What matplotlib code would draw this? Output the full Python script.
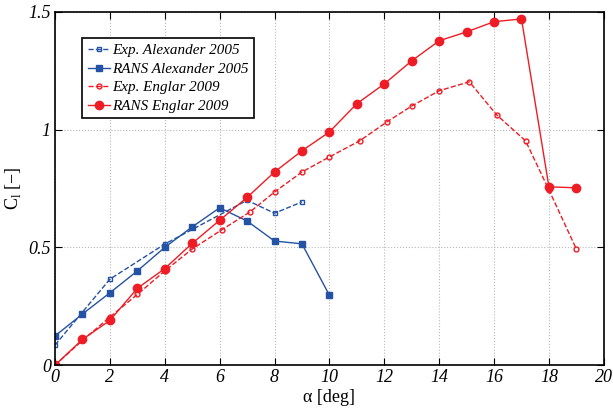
import matplotlib
matplotlib.use('Agg')
import matplotlib.pyplot as plt

# Exp. Alexander 2005
expAlexAlpha = [0, 2, 4, 7, 8, 9]
expAlexCl = [0.085, 0.365, 0.514, 0.70, 0.645, 0.693]

# RANS Alexander 2005
ransAlexAlpha = [0, 1, 2, 3, 4, 5, 6, 7, 8, 9, 10]
ransAlexCl = [0.124, 0.217, 0.307, 0.40, 0.50, 0.587, 0.668, 0.612, 0.527, 0.515, 0.297]

# Exp. Englar 2009
expEnglarAlpha = [0, 1, 2, 3, 4, 5, 6.07, 7.1, 8, 9, 10, 11.1, 12.1, 13, 14, 15.1, 16.1, 17.15, 18, 19]
expEnglarCl = [0.0, 0.105, 0.204, 0.30, 0.40, 0.493, 0.574, 0.65, 0.735, 0.82, 0.884, 0.952,
               1.033, 1.10, 1.165, 1.203, 1.062, 0.952, 0.744, 0.493]

# RANS Englar 2009
ransEnglarAlpha = list(range(20))
ransEnglarCl = [0.0, 0.109, 0.19, 0.326, 0.41, 0.517, 0.615, 0.712, 0.82, 0.91, 0.99, 1.11,
                1.194, 1.292, 1.377, 1.415, 1.458, 1.47, 0.757, 0.753]

blue = '#2452a4'
red = '#ee1c25'

plt.rcParams['font.family'] = 'Liberation Serif'

fig = plt.figure(figsize=(6.13, 4.08), dpi=100)
ax = fig.add_axes([0.0897, 0.105, 0.8953, 0.866])

ax.plot(expAlexAlpha, expAlexCl, '--', color=blue, linewidth=1, marker='s', markersize=3.2,
        markerfacecolor='none', markeredgecolor=blue, label='Exp. Alexander 2005')
ax.plot(ransAlexAlpha, ransAlexCl, '-', color=blue, linewidth=1, marker='s', markersize=5,
        label='RANS Alexander 2005')
ax.plot(expEnglarAlpha, expEnglarCl, '--', color=red, linewidth=1, marker='o', markersize=3.5,
        markerfacecolor='none', markeredgecolor=red, label='Exp. Englar 2009')
ax.plot(ransEnglarAlpha, ransEnglarCl, '-', color=red, linewidth=1, marker='o', markersize=6,
        label='RANS Englar 2009')

ax.set_xlim(0, 20)
ax.set_ylim(0, 1.5)
ax.set_xticks(range(0, 21, 2))
ax.set_yticks([0, 0.5, 1, 1.5])
ax.set_yticklabels(['0', '0.5', '1', '1.5'])
ax.grid(True, linestyle=':', color='#b8b8b8', linewidth=0.8)
ax.tick_params(direction='in', top=True, right=True, length=5, labelsize=13, pad=3)
for lab in ax.get_xticklabels() + ax.get_yticklabels():
    lab.set_fontstyle('italic')
for s in ax.spines.values():
    s.set_linewidth(1.2)

ax.set_xlabel('α [deg]', fontsize=13, labelpad=2)
ax.set_ylabel('C$_\\mathregular{l}$ [−]', fontsize=13, labelpad=4)

leg = ax.legend(loc='upper left', bbox_to_anchor=(0.05, 0.925), handlelength=1.5,
                handletextpad=0.1, borderpad=0.35, labelspacing=0.33, fancybox=False,
                prop={'family': 'Liberation Serif', 'style': 'italic', 'size': 10.9},
                borderaxespad=0)
leg.get_frame().set_edgecolor('black')
leg.get_frame().set_linewidth(1.2)
leg.get_frame().set_alpha(1)

fig.savefig('out.png', dpi=100)
